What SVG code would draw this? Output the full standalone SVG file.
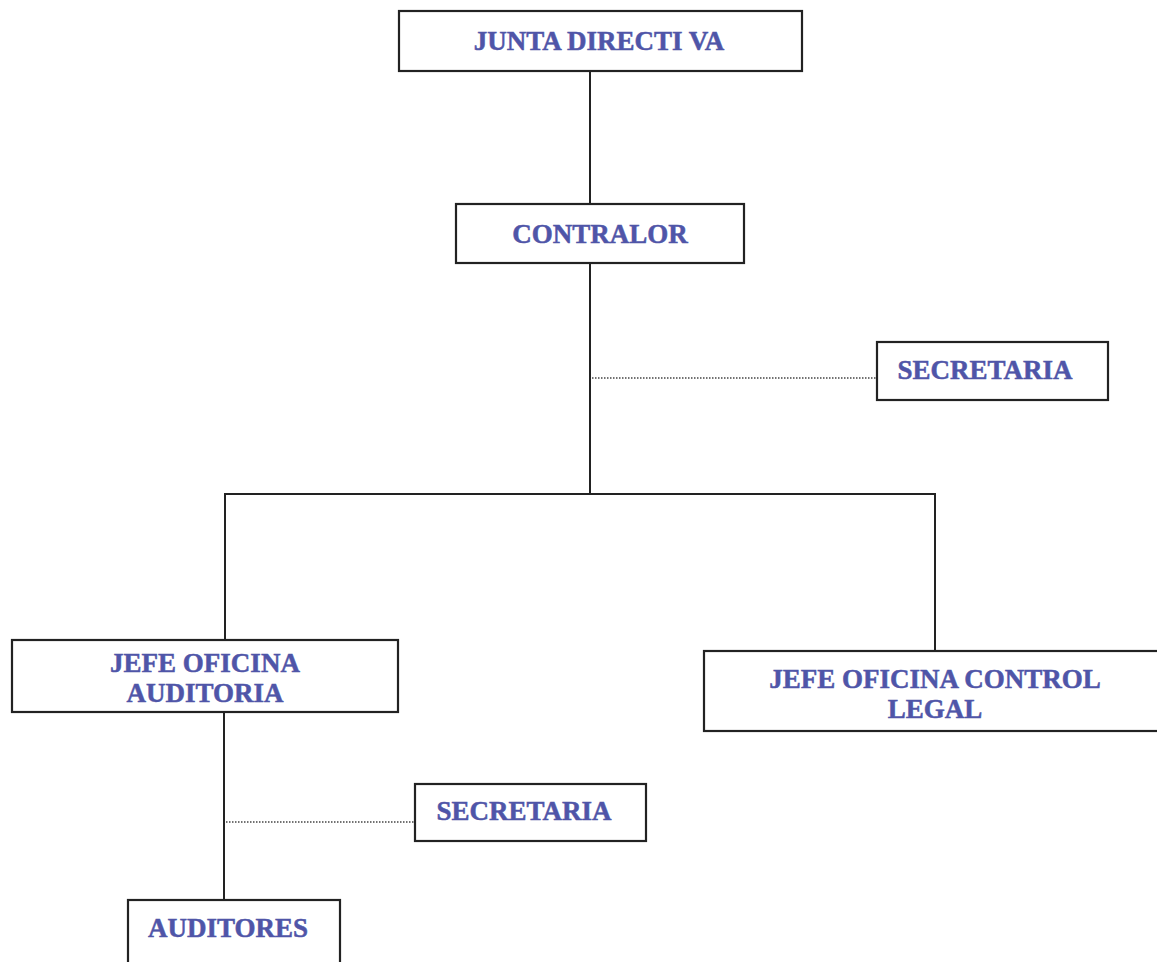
<svg xmlns="http://www.w3.org/2000/svg" width="1157" height="962" viewBox="0 0 1157 962">
<style>
.box{fill:#fff;stroke:#222;stroke-width:2.2}
.t{font-family:"Liberation Serif","Times New Roman",serif;font-weight:bold;font-size:27px;fill:#4f55a8;stroke:#4f55a8;stroke-width:0.5;text-anchor:middle}
.ln{stroke:#222;stroke-width:2;fill:none}
.dot{stroke:#444;stroke-width:1.5;stroke-dasharray:1.5 1.5;fill:none}
</style>
<rect width="1157" height="962" fill="#fff"/>
<g id="connectors">
<line class="ln" x1="590" y1="71" x2="590" y2="204"/>
<line class="ln" x1="590" y1="263" x2="590" y2="494"/>
<line class="dot" x1="592" y1="378" x2="877" y2="378"/>
<polyline class="ln" points="225,640 225,494 935,494 935,651"/>
<line class="ln" x1="224" y1="712" x2="224" y2="900"/>
<line class="dot" x1="226" y1="822" x2="415" y2="822"/>
</g>
<g id="junta">
<rect class="box" x="399" y="11" width="403" height="60"/>
<text class="t" x="599" y="50">JUNTA DIRECTI VA</text>
</g>
<g id="contralor">
<rect class="box" x="456" y="204" width="288" height="59"/>
<text class="t" x="600" y="243">CONTRALOR</text>
</g>
<g id="secretaria1">
<rect class="box" x="877" y="342" width="231" height="58"/>
<text class="t" x="985" y="379">SECRETARIA</text>
</g>
<g id="jefe-auditoria">
<rect class="box" x="12" y="640" width="386" height="72"/>
<text class="t" x="205" y="672">JEFE OFICINA</text>
<text class="t" x="205" y="702">AUDITORIA</text>
</g>
<g id="jefe-legal">
<rect class="box" x="704" y="651" width="470" height="80"/>
<text class="t" x="935" y="688">JEFE OFICINA CONTROL</text>
<text class="t" x="935" y="718">LEGAL</text>
</g>
<g id="secretaria2">
<rect class="box" x="415" y="784" width="231" height="57"/>
<text class="t" x="524" y="820">SECRETARIA</text>
</g>
<g id="auditores">
<rect class="box" x="128" y="900" width="212" height="72"/>
<text class="t" x="228" y="937">AUDITORES</text>
</g>
</svg>
